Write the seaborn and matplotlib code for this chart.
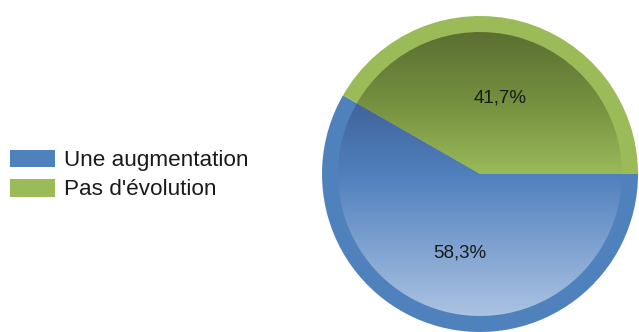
import numpy as np
import matplotlib
matplotlib.use("Agg")
import matplotlib.pyplot as plt
from matplotlib.colors import LinearSegmentedColormap
import seaborn as sns

# Share of answers
categories = ["Une augmentation", "Pas d'évolution"]
shares = [58.3, 41.7]
base_colors = ["#4f81bd", "#9bbb59"]
# vertical shading of each slice, top -> bottom
shade_stops = [
    [(0.0, "#41649a"), (0.33, "#4f7fbd"), (1.0, "#abc3e2")],
    [(0.0, "#5b6f32"), (0.5, "#75903f"), (1.0, "#9aba5a")],
]

sns.set_theme(style="white")
plt.rcParams["font.family"] = ["Liberation Sans", "DejaVu Sans"]
palette = sns.color_palette(base_colors)

W, H = 639, 332
fig = plt.figure(figsize=(W / 100, H / 100), dpi=100)
ax = fig.add_axes([0, 0, 1, 1])

cx, cy = 480, H - 174
r_out, r_in = 158, 142

outer, _ = ax.pie(shares, colors=palette, startangle=0, counterclock=False,
                  radius=r_out, center=(cx, cy), frame=True,
                  wedgeprops=dict(linewidth=0))
inner, _ = ax.pie(shares, colors=palette, startangle=0, counterclock=False,
                  radius=r_in, center=(cx, cy), frame=True,
                  wedgeprops=dict(linewidth=0))

for w, stops in zip(inner, shade_stops):
    ext = w.get_path().get_extents()
    cmap = LinearSegmentedColormap.from_list("shade", stops)
    grad = np.linspace(1, 0, 256).reshape(-1, 1)
    im = ax.imshow(grad, cmap=cmap, vmin=0, vmax=1, aspect="auto",
                   origin="lower", interpolation="bilinear",
                   extent=(ext.x0, ext.x1, ext.y0, ext.y1), zorder=w.get_zorder() + 0.1)
    im.set_clip_path(w)

# percentage labels
label_pos = [(460, H - 253), (500, H - 98)]
for v, (x, y) in zip(shares, label_pos):
    ax.text(x, y, f"{v:.1f}".replace(".", ",") + "%", ha="center", va="center",
            fontsize=13.5, color="#1a1a1a", zorder=5)

ax.set_xlim(0, W)
ax.set_ylim(0, H)
ax.set_aspect("auto")
ax.axis("off")

ax.legend(outer, categories, loc="center left",
          bbox_to_anchor=(10 / W, 1 - 175 / H), frameon=False,
          fontsize=16.2, handlelength=2.0, handleheight=0.85,
          handletextpad=0.4, labelspacing=0.33, borderpad=0, borderaxespad=0,
          labelcolor="#1a1a1a")

fig.savefig("out.png", dpi=100)
